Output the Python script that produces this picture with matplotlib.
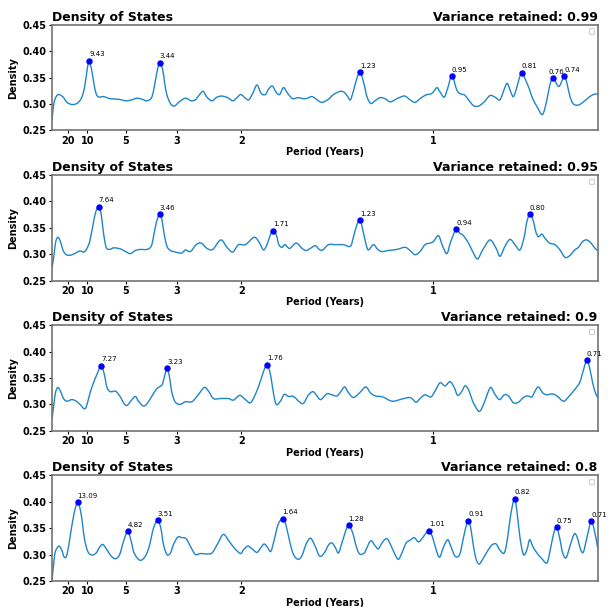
import matplotlib
matplotlib.use("Agg")
import matplotlib.pyplot as plt
from matplotlib.path import Path
from matplotlib.patches import PathPatch

# frequency (cycles / year) and density
freq_099 = [0.008, 0.013, 0.019, 0.026, 0.037, 0.047, 0.060, 0.073, 0.082, 0.089, 0.095, 0.100, 0.1044,
            0.111, 0.117, 0.123, 0.130, 0.142, 0.160, 0.181, 0.201, 0.216, 0.229, 0.242, 0.255, 0.266,
            0.272, 0.278, 0.284, 0.288, 0.296, 0.301, 0.307, 0.316, 0.326, 0.339, 0.355, 0.370, 0.381,
            0.391, 0.401, 0.411, 0.424, 0.437, 0.450, 0.465, 0.478, 0.489, 0.499, 0.511, 0.520, 0.530,
            0.541, 0.552, 0.563, 0.571, 0.581, 0.591, 0.600, 0.610, 0.621, 0.634, 0.647, 0.667, 0.684,
            0.697, 0.710, 0.727, 0.740, 0.758, 0.768, 0.777, 0.784, 0.792, 0.801, 0.810, 0.820, 0.827,
            0.837, 0.848, 0.861, 0.874, 0.888, 0.902, 0.914, 0.926, 0.939, 0.952, 0.965, 0.980, 0.993,
            1.000, 1.009, 1.017, 1.028, 1.037, 1.048, 1.061, 1.071, 1.081, 1.091, 1.104, 1.117, 1.132,
            1.147, 1.160, 1.173, 1.184, 1.192, 1.201, 1.208, 1.217, 1.224, 1.230, 1.241, 1.250, 1.258,
            1.270, 1.282, 1.290, 1.299, 1.305, 1.312, 1.322, 1.328, 1.335, 1.340, 1.347, 1.355, 1.364,
            1.377, 1.390, 1.403, 1.416, 1.427]
dens_099 = [0.270, 0.301, 0.314, 0.318, 0.313, 0.303, 0.299, 0.301, 0.308, 0.320, 0.342, 0.368, 0.382,
            0.365, 0.339, 0.319, 0.313, 0.314, 0.310, 0.309, 0.306, 0.308, 0.311, 0.309, 0.306, 0.311,
            0.325, 0.349, 0.371, 0.378, 0.365, 0.339, 0.317, 0.301, 0.296, 0.304, 0.311, 0.306, 0.308,
            0.317, 0.324, 0.313, 0.306, 0.313, 0.315, 0.312, 0.306, 0.312, 0.318, 0.311, 0.308, 0.320,
            0.336, 0.320, 0.318, 0.328, 0.334, 0.322, 0.318, 0.331, 0.320, 0.310, 0.312, 0.310, 0.314,
            0.308, 0.303, 0.309, 0.318, 0.324, 0.322, 0.314, 0.308, 0.325, 0.349, 0.360, 0.336, 0.314,
            0.301, 0.306, 0.312, 0.310, 0.304, 0.309, 0.313, 0.315, 0.308, 0.303, 0.310, 0.317, 0.319,
            0.323, 0.331, 0.323, 0.313, 0.330, 0.353, 0.326, 0.319, 0.317, 0.308, 0.297, 0.296, 0.304,
            0.316, 0.313, 0.308, 0.328, 0.339, 0.323, 0.314, 0.332, 0.351, 0.3595, 0.343, 0.327, 0.310,
            0.294, 0.280, 0.292, 0.323, 0.342, 0.349, 0.336, 0.334, 0.346, 0.353, 0.340, 0.314, 0.300,
            0.298, 0.304, 0.312, 0.318, 0.319]
peaks_freq_099 = [0.1044, 0.288, 0.810, 1.048, 1.230, 1.312, 1.340]
peaks_label_099 = ["9.43", "3.44", "1.23", "0.95", "0.81", "0.76", "0.74"]

freq_095 = [0.008, 0.013, 0.017, 0.023, 0.030, 0.037, 0.045, 0.056, 0.069, 0.080, 0.091, 0.099, 0.106,
            0.113, 0.121, 0.1295, 0.136, 0.142, 0.149, 0.158, 0.169, 0.186, 0.199, 0.212, 0.225, 0.238,
            0.255, 0.266, 0.272, 0.279, 0.288, 0.294, 0.300, 0.307, 0.316, 0.329, 0.345, 0.355, 0.368,
            0.383, 0.396, 0.411, 0.426, 0.447, 0.463, 0.478, 0.493, 0.511, 0.534, 0.548, 0.558, 0.567,
            0.576, 0.5826, 0.591, 0.598, 0.606, 0.614, 0.626, 0.643, 0.658, 0.669, 0.680, 0.693, 0.703,
            0.712, 0.727, 0.745, 0.766, 0.784, 0.792, 0.801, 0.8095, 0.818, 0.825, 0.831, 0.844, 0.855,
            0.866, 0.883, 0.905, 0.926, 0.939, 0.952, 0.965, 0.978, 0.991, 1.000, 1.013, 1.024, 1.035,
            1.045, 1.059, 1.068, 1.078, 1.091, 1.104, 1.115, 1.128, 1.147, 1.163, 1.173, 1.186, 1.199,
            1.212, 1.225, 1.236, 1.243, 1.251, 1.260, 1.266, 1.273, 1.282, 1.290, 1.302, 1.316, 1.329,
            1.342, 1.354, 1.366, 1.377, 1.388, 1.399, 1.411, 1.420, 1.427]
dens_095 = [0.274, 0.296, 0.321, 0.332, 0.324, 0.307, 0.299, 0.298, 0.302, 0.306, 0.304, 0.311, 0.324,
            0.349, 0.378, 0.390, 0.375, 0.340, 0.313, 0.309, 0.312, 0.310, 0.305, 0.301, 0.307, 0.309,
            0.309, 0.315, 0.333, 0.359, 0.376, 0.365, 0.337, 0.315, 0.307, 0.304, 0.302, 0.308, 0.305,
            0.318, 0.321, 0.311, 0.309, 0.327, 0.313, 0.304, 0.318, 0.318, 0.332, 0.321, 0.308, 0.318,
            0.337, 0.344, 0.337, 0.318, 0.313, 0.318, 0.311, 0.321, 0.311, 0.307, 0.311, 0.316, 0.309,
            0.308, 0.318, 0.318, 0.318, 0.315, 0.333, 0.356, 0.364, 0.340, 0.318, 0.308, 0.318, 0.309,
            0.305, 0.307, 0.309, 0.313, 0.307, 0.299, 0.305, 0.318, 0.321, 0.324, 0.335, 0.315, 0.301,
            0.324, 0.347, 0.340, 0.335, 0.321, 0.302, 0.291, 0.308, 0.327, 0.311, 0.296, 0.315, 0.328,
            0.318, 0.308, 0.333, 0.362, 0.376, 0.362, 0.343, 0.333, 0.338, 0.330, 0.321, 0.318, 0.308,
            0.294, 0.297, 0.307, 0.313, 0.324, 0.327, 0.320, 0.311, 0.307]
peaks_freq_095 = [0.1295, 0.288, 0.5826, 0.8095, 1.059, 1.251]
peaks_label_095 = ["7.64", "3.46", "1.71", "1.23", "0.94", "0.80"]

freq_090 = [0.008, 0.013, 0.017, 0.023, 0.030, 0.038, 0.047, 0.060, 0.071, 0.082, 0.091, 0.097, 0.106,
            0.115, 0.125, 0.1356, 0.144, 0.151, 0.160, 0.173, 0.184, 0.194, 0.203, 0.216, 0.225, 0.233,
            0.245, 0.255, 0.268, 0.281, 0.294, 0.301, 0.307, 0.313, 0.320, 0.329, 0.342, 0.355, 0.372,
            0.388, 0.404, 0.415, 0.428, 0.446, 0.467, 0.480, 0.496, 0.511, 0.524, 0.537, 0.550, 0.558,
            0.567, 0.576, 0.583, 0.591, 0.602, 0.612, 0.623, 0.636, 0.651, 0.662, 0.675, 0.687, 0.697,
            0.707, 0.723, 0.736, 0.749, 0.759, 0.769, 0.779, 0.792, 0.808, 0.824, 0.836, 0.849, 0.868,
            0.892, 0.913, 0.935, 0.944, 0.955, 0.965, 0.978, 0.993, 1.004, 1.017, 1.030, 1.043, 1.054,
            1.063, 1.074, 1.082, 1.091, 1.102, 1.113, 1.121, 1.132, 1.143, 1.150, 1.160, 1.172, 1.184,
            1.195, 1.208, 1.221, 1.234, 1.245, 1.256, 1.264, 1.273, 1.284, 1.295, 1.308, 1.321, 1.338,
            1.351, 1.364, 1.380, 1.388, 1.399, 1.407, 1.414, 1.421, 1.427]
dens_090 = [0.272, 0.300, 0.322, 0.332, 0.325, 0.311, 0.306, 0.309, 0.306, 0.299, 0.292, 0.295, 0.319,
            0.339, 0.357, 0.373, 0.357, 0.332, 0.324, 0.325, 0.316, 0.303, 0.298, 0.309, 0.315, 0.306,
            0.297, 0.301, 0.316, 0.330, 0.337, 0.354, 0.368, 0.354, 0.322, 0.304, 0.300, 0.305, 0.305,
            0.318, 0.332, 0.325, 0.311, 0.311, 0.311, 0.308, 0.317, 0.309, 0.303, 0.319, 0.344, 0.362,
            0.375, 0.357, 0.325, 0.300, 0.306, 0.319, 0.315, 0.315, 0.305, 0.302, 0.318, 0.324, 0.316,
            0.309, 0.320, 0.318, 0.316, 0.324, 0.333, 0.322, 0.313, 0.322, 0.333, 0.322, 0.316, 0.314,
            0.306, 0.309, 0.313, 0.311, 0.304, 0.311, 0.318, 0.314, 0.325, 0.341, 0.335, 0.343, 0.332,
            0.317, 0.325, 0.335, 0.328, 0.306, 0.291, 0.287, 0.303, 0.325, 0.332, 0.319, 0.309, 0.318,
            0.316, 0.303, 0.304, 0.313, 0.316, 0.314, 0.325, 0.333, 0.322, 0.318, 0.320, 0.316, 0.306,
            0.314, 0.325, 0.341, 0.360, 0.384, 0.366, 0.341, 0.322, 0.313]
peaks_freq_090 = [0.1356, 0.307, 0.567, 1.399]
peaks_label_090 = ["7.27", "3.23", "1.76", "0.71"]

freq_080 = [0.008, 0.013, 0.017, 0.026, 0.033, 0.040, 0.047, 0.056, 0.065, 0.0749, 0.084, 0.092, 0.101,
            0.112, 0.123, 0.131, 0.140, 0.151, 0.162, 0.173, 0.184, 0.194, 0.2048, 0.214, 0.220, 0.229,
            0.239, 0.251, 0.261, 0.272, 0.2828, 0.291, 0.298, 0.307, 0.316, 0.324, 0.335, 0.346, 0.357,
            0.369, 0.381, 0.394, 0.411, 0.424, 0.437, 0.453, 0.466, 0.480, 0.498, 0.506, 0.517, 0.528,
            0.541, 0.551, 0.560, 0.569, 0.577, 0.586, 0.596, 0.6077, 0.616, 0.626, 0.636, 0.648, 0.658,
            0.669, 0.680, 0.691, 0.704, 0.716, 0.727, 0.736, 0.745, 0.753, 0.762, 0.771, 0.7792, 0.790,
            0.799, 0.808, 0.820, 0.827, 0.837, 0.849, 0.857, 0.868, 0.879, 0.889, 0.900, 0.909, 0.918,
            0.929, 0.939, 0.950, 0.961, 0.972, 0.981, 0.989, 0.998, 1.007, 1.016, 1.026, 1.037, 1.045,
            1.056, 1.068, 1.078, 1.085, 1.091, 1.097, 1.104, 1.111, 1.119, 1.128, 1.140, 1.152, 1.163,
            1.173, 1.184, 1.192, 1.201, 1.211, 1.218, 1.225, 1.234, 1.243, 1.250, 1.258, 1.269, 1.282,
            1.295, 1.303, 1.312, 1.320, 1.328, 1.336, 1.345, 1.355, 1.366, 1.374, 1.383, 1.390, 1.399,
            1.410, 1.418, 1.427]
dens_080 = [0.250, 0.287, 0.306, 0.316, 0.309, 0.295, 0.300, 0.338, 0.376, 0.399, 0.376, 0.332, 0.306,
            0.299, 0.303, 0.313, 0.319, 0.309, 0.297, 0.292, 0.300, 0.325, 0.344, 0.325, 0.306, 0.294,
            0.289, 0.297, 0.316, 0.350, 0.365, 0.350, 0.319, 0.300, 0.303, 0.319, 0.333, 0.332, 0.330,
            0.314, 0.300, 0.302, 0.301, 0.303, 0.318, 0.338, 0.328, 0.314, 0.302, 0.309, 0.316, 0.311,
            0.304, 0.313, 0.320, 0.313, 0.306, 0.328, 0.357, 0.368, 0.357, 0.325, 0.300, 0.291, 0.298,
            0.320, 0.331, 0.318, 0.297, 0.303, 0.318, 0.322, 0.313, 0.303, 0.322, 0.343, 0.356, 0.341,
            0.316, 0.301, 0.303, 0.313, 0.326, 0.316, 0.311, 0.324, 0.330, 0.318, 0.300, 0.291, 0.303,
            0.322, 0.327, 0.332, 0.324, 0.332, 0.341, 0.345, 0.332, 0.309, 0.295, 0.314, 0.328, 0.316,
            0.297, 0.300, 0.332, 0.354, 0.364, 0.350, 0.316, 0.291, 0.282, 0.291, 0.306, 0.318, 0.320,
            0.308, 0.303, 0.328, 0.376, 0.406, 0.376, 0.332, 0.300, 0.309, 0.328, 0.316, 0.303, 0.292,
            0.284, 0.306, 0.338, 0.352, 0.332, 0.303, 0.294, 0.316, 0.339, 0.332, 0.309, 0.305, 0.332,
            0.363, 0.347, 0.313]
peaks_freq_080 = [0.0749, 0.2048, 0.2828, 0.6077, 0.7792, 0.989, 1.091, 1.211, 1.320, 1.410]
peaks_label_080 = ["13.09", "4.82", "3.51", "1.64", "1.28", "1.01", "0.91", "0.82", "0.75", "0.71"]

variances = ["0.99", "0.95", "0.9", "0.8"]
panels = [
    (freq_099, dens_099, peaks_freq_099, peaks_label_099),
    (freq_095, dens_095, peaks_freq_095, peaks_label_095),
    (freq_090, dens_090, peaks_freq_090, peaks_label_090),
    (freq_080, dens_080, peaks_freq_080, peaks_label_080),
]

period_ticks = [20, 10, 5, 3, 2, 1]


def smooth_path(xs, ys):
    # courbe de Bezier passant par les points lus (rendu seulement)
    verts = [(xs[0], ys[0])]
    codes = [Path.MOVETO]
    n = len(xs)
    for i in range(n - 1):
        x0, y0 = (xs[i - 1], ys[i - 1]) if i > 0 else (xs[i], ys[i])
        x1, y1 = xs[i], ys[i]
        x2, y2 = xs[i + 1], ys[i + 1]
        x3, y3 = (xs[i + 2], ys[i + 2]) if i + 2 < n else (x2, y2)
        c1 = (x1 + (x2 - x0) / 6, y1 + (y2 - y0) / 6)
        c2 = (x2 - (x3 - x1) / 6, y2 - (y3 - y1) / 6)
        verts += [c1, c2, (x2, y2)]
        codes += [Path.CURVE4] * 3
    return Path(verts, codes)


plt.rcParams['font.family'] = 'DejaVu Sans'
plt.rcParams['font.weight'] = 'bold'
plt.rcParams['axes.labelweight'] = 'bold'

fig, axes = plt.subplots(4, 1, figsize=(6.08, 6.07), dpi=100)
fig.subplots_adjust(left=0.0855, right=0.983, bottom=0.043, top=0.959, hspace=0.424)

for ax, (freq, dens, pk_f, pk_lab), var in zip(axes, panels, variances):
    ax.add_patch(PathPatch(smooth_path(freq, dens), facecolor='none',
                           edgecolor='#1f85c8', lw=1.0))
    for f, lab in zip(pk_f, pk_lab):
        d = dens[freq.index(f)]
        ax.plot(f, d, 'o', color='blue', ms=3.6)
        # petit décalage pour les deux pics voisins 0.76 / 0.74
        dx = -3.5 if (lab == "0.76" and var == "0.99") else 0
        ax.annotate(lab, (f, d), xytext=(dx, 2.5), textcoords='offset points',
                    ha='left', va='bottom', fontsize=5, fontweight='normal')

    ax.set_xlim(freq[0], freq[-1])
    ax.set_ylim(0.25, 0.45)
    ax.set_yticks([0.25, 0.30, 0.35, 0.40, 0.45])
    ax.set_xticks([1 / p for p in period_ticks])
    ax.set_xticklabels([str(p) for p in period_ticks])
    ax.tick_params(labelsize=7, length=2.5, width=0.8, pad=1.5)
    ax.set_xlabel("Period (Years)", fontsize=7, labelpad=1)
    ax.set_ylabel("Density", fontsize=7, labelpad=3)
    ax.set_title("Density of States", loc='left', fontsize=9, fontweight='bold', pad=3)
    ax.set_title("Variance retained: " + var, loc='right', fontsize=9, fontweight='bold', pad=3)
    for sp in ax.spines.values():
        sp.set_color('0.45')
        sp.set_linewidth(1.2)
    ax.legend(handles=[], loc='upper right', fontsize=5)

fig.savefig("out.png", dpi=100)
